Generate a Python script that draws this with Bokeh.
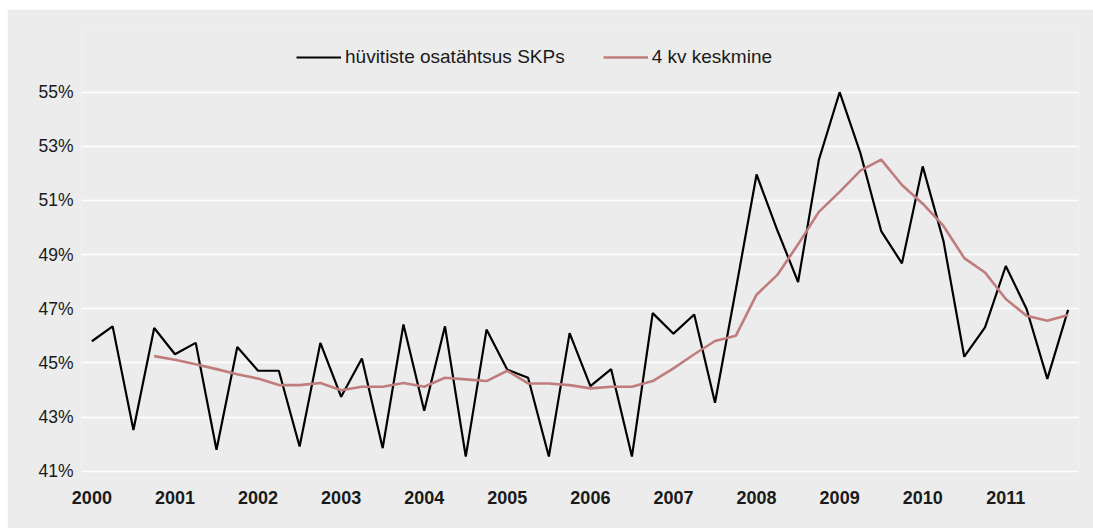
from bokeh.plotting import figure
from bokeh.models import Range1d, FixedTicker, Legend, LegendItem, ColumnDataSource
from bokeh.embed import file_html
from bokeh.resources import INLINE

# quarterly data, 2000 Q1 ... 2011 Q4
years = ["2000", "2001", "2002", "2003", "2004", "2005",
         "2006", "2007", "2008", "2009", "2010", "2011"]
share_gdp = [45.80, 46.35, 42.52, 46.29,
             45.32, 45.74, 41.79, 45.59,
             44.71, 44.71, 41.91, 45.74,
             43.75, 45.16, 41.85, 46.42,
             43.23, 46.35, 41.54, 46.23,
             44.75, 44.45, 41.54, 46.10,
             44.14, 44.77, 41.54, 46.84,
             46.08, 46.79, 43.53, 47.70,
             51.96, 49.90, 47.99, 52.50,
             55.00, 52.75, 49.87, 48.68,
             52.26, 49.50, 45.23, 46.31,
             48.58, 46.99, 44.41, 46.96]
# 4-quarter average, starts 2000 Q4
avg4 = [45.25,
        45.12, 44.95, 44.77, 44.58,
        44.42, 44.18, 44.18, 44.26,
        43.99, 44.12, 44.12, 44.26,
        44.12, 44.45, 44.39, 44.33,
        44.71, 44.24, 44.24, 44.18,
        44.06, 44.12, 44.12, 44.33,
        44.80, 45.32, 45.81, 46.00,
        47.52, 48.25, 49.38, 50.58,
        51.32, 52.10, 52.51, 51.57,
        50.88, 50.06, 48.87, 48.34,
        47.36, 46.74, 46.56, 46.77]
y_ticks = [41, 43, 45, 47, 49, 51, 53, 55]

n = len(share_gdp)
x_all = list(range(n))
x_avg = list(range(n - len(avg4), n))

BG = "#ebeceb"
FONT = "Liberation Sans"

p = figure(width=1086, height=519, output_backend="svg", toolbar_location=None,
           x_range=Range1d(-0.5, n - 0.5), y_range=Range1d(40.73, 57.353),
           min_border_left=74, min_border_right=15, min_border_top=19, min_border_bottom=50,
           background_fill_color=BG, border_fill_color=BG, outline_line_color=None)
p.margin = (9, 0, 0, 7)

src1 = ColumnDataSource(dict(x=x_all, y=share_gdp))
src2 = ColumnDataSource(dict(x=x_avg, y=avg4))
r1 = p.line("x", "y", source=src1, line_color="#000000", line_width=2.2)
r2 = p.line("x", "y", source=src2, line_color="#c07d7d", line_width=2.6)

p.xgrid.grid_line_color = None
p.ygrid.grid_line_color = "#ffffff"
p.ygrid.grid_line_width = 1.6
p.ygrid.ticker = FixedTicker(ticks=y_ticks)

p.yaxis.ticker = FixedTicker(ticks=y_ticks)
p.yaxis.major_label_overrides = {t: f"{t}%" for t in y_ticks}
p.xaxis.ticker = FixedTicker(ticks=[4 * i for i in range(len(years))])
p.xaxis.major_label_overrides = {4 * i: y for i, y in enumerate(years)}

for ax in (p.xaxis[0], p.yaxis[0]):
    ax.axis_line_color = None
    ax.major_tick_line_color = None
    ax.minor_tick_line_color = None
    ax.major_tick_in = 0
    ax.major_tick_out = 0
    ax.minor_tick_in = 0
    ax.minor_tick_out = 0
    ax.major_label_text_font = FONT
    ax.major_label_text_color = "#1a1a1a"

p.yaxis.major_label_text_font_size = "17.5px"
p.yaxis.major_label_standoff = 8
p.xaxis.major_label_text_font_size = "18px"
p.xaxis.major_label_text_font_style = "bold"
p.xaxis.major_label_standoff = 12

legend = Legend(items=[LegendItem(label="hüvitiste osatähtsus SKPs", renderers=[r1]),
                       LegendItem(label="4 kv keskmine", renderers=[r2])],
                orientation="horizontal", location=(215, 410),
                glyph_width=45, glyph_height=20, label_standoff=4, spacing=38,
                padding=0, margin=0, background_fill_alpha=0, border_line_alpha=0,
                label_text_font=FONT, label_text_font_size="19px",
                label_text_color="#1a1a1a")
p.add_layout(legend)

open("out.html", "w").write(file_html(p, INLINE))
